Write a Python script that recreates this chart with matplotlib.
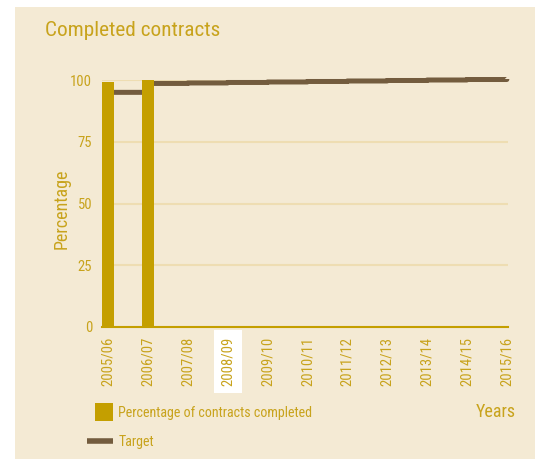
import matplotlib
matplotlib.use("Agg")
import matplotlib.pyplot as plt
import numpy as np
from matplotlib import font_manager
from matplotlib.patches import Rectangle, Patch
from matplotlib.lines import Line2D
from matplotlib.legend_handler import HandlerPatch

# ---- data ----
years = ["2005/06", "2006/07", "2007/08", "2008/09", "2009/10", "2010/11",
         "2011/12", "2012/13", "2013/14", "2014/15", "2015/16"]
completed = [99, 100, np.nan, np.nan, np.nan, np.nan, np.nan, np.nan, np.nan, np.nan, np.nan]
target = [95, 98.6, 98.8, 99.0, 99.2, 99.4, 99.6, 99.8, 100.0, 100.2, 100.4]
yticks = [0, 25, 50, 75, 100]
highlight_label = "2008/09"

# ---- fonts ----
avail = {f.name for f in font_manager.fontManager.ttflist}
family = "DejaVu Sans"
for cand in ["Liberation Sans Narrow", "Roboto Condensed", "Arial Narrow",
             "Open Sans Condensed", "Liberation Sans"]:
    if cand in avail:
        family = cand
        break
plt.rcParams["font.family"] = [family, "DejaVu Sans"]

GOLD = "#C49F00"
TXT = "#C8A31C"
BROWN = "#735C3E"
BG = "#F4EAD4"
GRID = "#EEDDB2"

W, H = 535, 459
fig = plt.figure(figsize=(W / 100, H / 100), dpi=100, facecolor="white")
fig.patches.append(Rectangle((15 / W, 0), 1 - 15 / W, (H - 7) / H,
                             transform=fig.transFigure, facecolor=BG,
                             edgecolor="none", zorder=-10))

ax = fig.add_axes([102 / W, 132 / H, 406 / W, 247 / H])
ax.set_facecolor("none")

x = np.arange(len(years))
line, = ax.plot(x, target, color=BROWN, lw=3.6, drawstyle="steps-post",
                solid_capstyle="butt", zorder=2, clip_on=False)
line.set_snap(False)
ax.bar(x, completed, width=0.3, color=GOLD, zorder=3)

ax.set_xlim(-0.15, 10.03)
ax.set_ylim(0, 100)
ax.set_yticks(yticks)
ax.set_xticks(x)
ax.set_xticklabels(years, rotation=90)
for y in yticks[1:]:
    ax.axhline(y, color=GRID, lw=1.5, zorder=1)

for s in ["left", "top", "right"]:
    ax.spines[s].set_visible(False)
ax.spines["bottom"].set_color(GOLD)
ax.spines["bottom"].set_linewidth(1.5)
ax.spines["bottom"].set_zorder(4)
ax.tick_params(axis="both", length=0, colors=TXT, labelsize=10.5)
ax.tick_params(axis="x", pad=7)
ax.tick_params(axis="y", pad=7)
for lab in ax.get_xticklabels():
    if lab.get_text() == highlight_label:
        lab.set_bbox(dict(facecolor="white", edgecolor="none", pad=5))

ax.set_ylabel("Percentage", color=TXT, fontsize=13)
ax.yaxis.set_label_coords(-0.078, 0.48)

fig.text(45 / W, 1 - 21 / H, "Completed contracts", color=TXT, fontsize=15.3,
         ha="left", va="top")
fig.text(516 / W, 1 - 412 / H, "Years", color=TXT, fontsize=13,
         ha="right", va="center")


def square_patch(legend, orig_handle, xdescent, ydescent, width, height, fontsize):
    sq = 13
    return Rectangle((-xdescent + width - sq, -ydescent + height / 2 - sq / 2), sq, sq)


handles = [Patch(facecolor=GOLD, edgecolor="none"),
           Line2D([0], [0], color=BROWN, lw=4, solid_capstyle="butt")]
leg = fig.legend(handles, ["Percentage of contracts completed", "Target"],
                 loc="upper left", bbox_to_anchor=(74 / W, 1 - 393 / H),
                 frameon=False, fontsize=10.1, labelcolor=TXT,
                 handlelength=1.85, handletextpad=0.4, labelspacing=1.08,
                 handler_map={Patch: HandlerPatch(patch_func=square_patch)})

fig.savefig("out.png", dpi=100, facecolor="white")
